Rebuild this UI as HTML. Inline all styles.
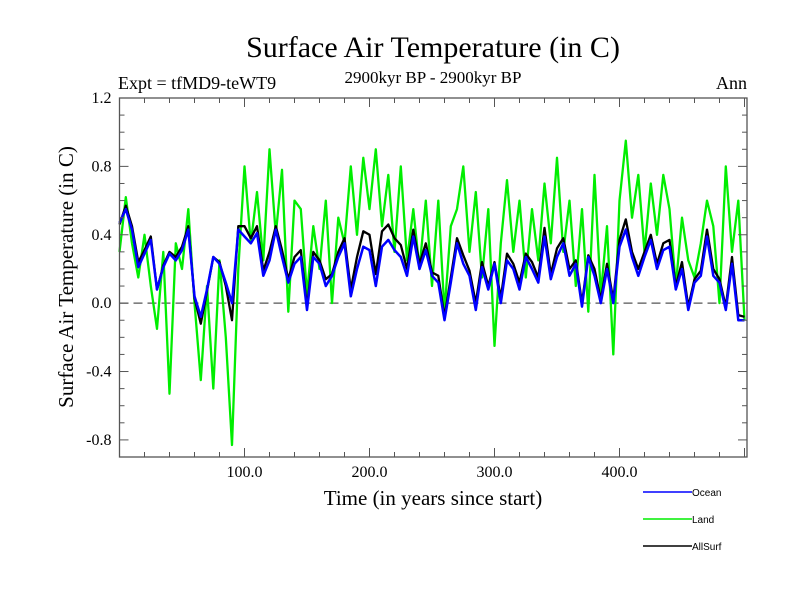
<!DOCTYPE html>
<html><head><meta charset="utf-8"><style>
body{margin:0;background:#fff}
svg{display:block;font-family:"Liberation Serif",serif}
</style></head><body>
<svg id="chart" width="800" height="600">
<text x="433" y="57" text-anchor="middle" font-size="30">Surface Air Temperature (in C)</text>
<text x="118" y="89" font-size="18">Expt = tfMD9-teWT9</text>
<text x="433" y="83" text-anchor="middle" font-size="17">2900kyr BP - 2900kyr BP</text>
<text x="747" y="89" text-anchor="end" font-size="18">Ann</text>
<text transform="translate(73,277) rotate(-90)" text-anchor="middle" font-size="21">Surface Air Temperature (in C)</text>
<text x="433" y="505" text-anchor="middle" font-size="21">Time (in years since start)</text>
<g id="marks"></g>
<g id="axes"></g>
<g id="legend" font-family="Liberation Sans, sans-serif" font-size="10"></g>
</svg>
<script>
const years=[0,5,10,15,20,25,30,35,40,45,50,55,60,65,70,75,80,85,90,95,100,105,110,115,120,125,130,135,140,145,150,155,160,165,170,175,180,185,190,195,200,205,210,215,220,225,230,235,240,245,250,255,260,265,270,275,280,285,290,295,300,305,310,315,320,325,330,335,340,345,350,355,360,365,370,375,380,385,390,395,400,405,410,415,420,425,430,435,440,445,450,455,460,465,470,475,480,485,490,495,500];
const ocean=[0.47,0.55,0.43,0.21,0.29,0.37,0.08,0.21,0.29,0.25,0.31,0.43,0.04,-0.08,0.08,0.27,0.23,0.12,0.0,0.43,0.39,0.35,0.41,0.16,0.25,0.43,0.27,0.12,0.23,0.27,-0.04,0.27,0.23,0.1,0.16,0.27,0.35,0.04,0.2,0.33,0.31,0.1,0.33,0.37,0.31,0.27,0.16,0.39,0.2,0.31,0.16,0.12,-0.1,0.12,0.35,0.23,0.16,-0.04,0.21,0.08,0.23,0.0,0.25,0.2,0.08,0.27,0.2,0.12,0.39,0.14,0.27,0.35,0.16,0.23,-0.02,0.27,0.16,0.0,0.2,0.0,0.33,0.43,0.27,0.16,0.27,0.37,0.2,0.31,0.33,0.08,0.2,-0.04,0.12,0.16,0.39,0.16,0.12,-0.04,0.23,-0.1,-0.1];
const land=[0.3,0.62,0.35,0.15,0.4,0.1,-0.15,0.3,-0.53,0.35,0.2,0.55,0.0,-0.45,0.1,-0.5,0.25,-0.2,-0.83,0.2,0.8,0.35,0.65,0.25,0.9,0.4,0.78,-0.05,0.6,0.55,0.05,0.45,0.2,0.6,0.0,0.5,0.35,0.8,0.4,0.85,0.55,0.9,0.45,0.75,0.3,0.8,0.25,0.55,0.2,0.6,0.1,0.6,-0.05,0.45,0.55,0.8,0.3,0.65,0.15,0.55,-0.25,0.35,0.72,0.3,0.6,0.15,0.55,0.25,0.7,0.35,0.85,0.3,0.6,0.1,0.55,-0.05,0.75,0.05,0.45,-0.3,0.6,0.95,0.5,0.75,0.3,0.7,0.4,0.75,0.55,0.1,0.5,0.25,0.15,0.35,0.6,0.45,0.0,0.8,0.3,0.6,-0.1];
const allsurf=[0.46,0.57,0.45,0.24,0.31,0.39,0.08,0.22,0.3,0.27,0.33,0.45,0.03,-0.12,0.07,0.27,0.24,0.1,-0.1,0.45,0.45,0.38,0.45,0.19,0.3,0.45,0.31,0.14,0.27,0.31,-0.02,0.3,0.25,0.14,0.17,0.3,0.38,0.08,0.27,0.42,0.4,0.17,0.42,0.46,0.38,0.34,0.2,0.43,0.23,0.35,0.18,0.16,-0.08,0.15,0.38,0.28,0.19,0.0,0.24,0.1,0.24,0.03,0.29,0.23,0.12,0.29,0.24,0.15,0.44,0.17,0.32,0.38,0.2,0.25,0.0,0.28,0.2,0.02,0.23,0.02,0.37,0.49,0.3,0.2,0.3,0.4,0.23,0.35,0.37,0.1,0.24,-0.02,0.14,0.19,0.43,0.2,0.14,-0.02,0.27,-0.07,-0.08];
const yTicks=[-0.8,-0.4,0.0,0.4,0.8,1.2];
const xTicks=[100,200,300,400];
const L=119.5,R=747,T=98,B=457,X0=0,X1=502,Y0=-0.9,Y1=1.2;
const sx=v=>L+(v-X0)/(X1-X0)*(R-L);
const sy=v=>B-(v-Y0)/(Y1-Y0)*(B-T);
const NS="http://www.w3.org/2000/svg";
function mk(tag,attrs,parent){const e=document.createElementNS(NS,tag);for(const k in attrs)e.setAttribute(k,attrs[k]);parent.appendChild(e);return e;}
const marks=document.getElementById('marks'),axes=document.getElementById('axes'),leg=document.getElementById('legend');
const zl=mk('line',{x1:L,x2:R,y1:sy(0),y2:sy(0),stroke:'#555','stroke-width':1.3,'stroke-dasharray':'9,5'},marks);


const series=[['land-series',land,'#00ee00',2.3],['allsurf-series',allsurf,'#000',2.3],['ocean-series',ocean,'#0000ff',2.5]];
series.forEach(([n,d,c,w])=>{
  const p=mk('polyline',{points:d.map((v,i)=>sx(years[i]).toFixed(1)+','+sy(v).toFixed(1)).join(' '),fill:'none',stroke:c,'stroke-width':w,'stroke-linejoin':'round'},marks);
  
  
});
const frame=mk('rect',{x:L,y:T,width:R-L,height:B-T,fill:'none',stroke:'#555','stroke-width':1.3},axes);


for(let v=20;v<X1;v+=20){const x=sx(v),len=(v%100===0)?9:5;
  mk('line',{x1:x,x2:x,y1:B,y2:B-len,stroke:'#555'},axes);mk('line',{x1:x,x2:x,y1:T,y2:T+len,stroke:'#555'},axes);}
for(let k=-8;k<=11;k++){const v=k/10,y=sy(v),len=(k%4===0)?9:5;
  mk('line',{x1:L,x2:L+len,y1:y,y2:y,stroke:'#555'},axes);mk('line',{x1:R,x2:R-len,y1:y,y2:y,stroke:'#555'},axes);}
xTicks.forEach(v=>{const t=mk('text',{x:sx(v),y:B+20,'text-anchor':'middle','font-size':16},axes);t.textContent=v.toFixed(1);
  
  });
yTicks.forEach(v=>{const t=mk('text',{x:L-8,y:sy(v)+5,'text-anchor':'end','font-size':16},axes);t.textContent=v.toFixed(1);
  
  });
[['Ocean','#0000ff',492],['Land','#00ee00',519],['AllSurf','#000',546]].forEach(([n,c,y])=>{
  const g=mk('g',{},leg);
  
  
  mk('line',{x1:643,x2:692,y1:y,y2:y,stroke:c,'stroke-width':1.5},g);
  const t=mk('text',{x:692,y:y+4},g);t.textContent=n;
});
</script>
</body></html>
